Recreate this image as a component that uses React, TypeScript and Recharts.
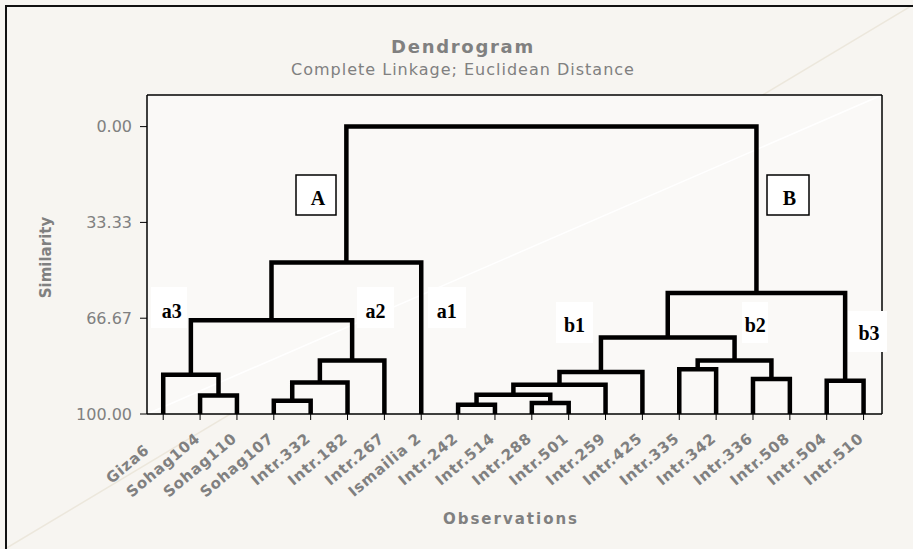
import React from 'react';
import { LineChart, Line, XAxis, YAxis, ReferenceLine } from 'recharts';

// Leaves in dendrogram order
const leafNames = [
  'Giza6', 'Sohag104', 'Sohag110', 'Sohag107', 'Intr.332', 'Intr.182', 'Intr.267', 'Ismailia 2',
  'Intr.242', 'Intr.514', 'Intr.288', 'Intr.501', 'Intr.259', 'Intr.425', 'Intr.335', 'Intr.342',
  'Intr.336', 'Intr.508', 'Intr.504', 'Intr.510',
];

// Merge steps: children (leaf name or earlier merge "m<i>") and similarity level
const mergeLeft = ['Sohag104', 'Giza6', 'Sohag107', 'm2', 'm3', 'm1', 'm5', 'Intr.242', 'Intr.288', 'm7', 'm9', 'm10', 'Intr.335', 'Intr.336', 'm12', 'm11', 'Intr.504', 'm15', 'm6'];
const mergeRight = ['Sohag110', 'm0', 'Intr.332', 'Intr.182', 'Intr.267', 'm4', 'Ismailia 2', 'Intr.514', 'Intr.501', 'm8', 'Intr.259', 'Intr.425', 'Intr.342', 'Intr.508', 'm13', 'm14', 'Intr.510', 'm16', 'm17'];
const mergeSimilarity = [93.6, 86.3, 95.4, 89.0, 81.4, 67.4, 47.3, 96.8, 96.2, 93.3, 89.8, 85.4, 84.4, 87.8, 81.4, 73.4, 88.4, 57.9, 0.0];

const yTicks = [0, 33.33, 66.67, 100];
const xTicks = leafNames.map((_, i) => i + 1);

// Build dendrogram links from the merge table
const nodeX: Record<string, number> = {};
const nodeH: Record<string, number> = {};
leafNames.forEach((n, i) => { nodeX[n] = i + 1; nodeH[n] = 100; });
const links = mergeLeft.map((l, i) => {
  const r = mergeRight[i];
  const s = mergeSimilarity[i];
  nodeX['m' + i] = (nodeX[l] + nodeX[r]) / 2;
  nodeH['m' + i] = s;
  return [
    { x: nodeX[l], y: nodeH[l] },
    { x: nodeX[l], y: s },
    { x: nodeX[r], y: s },
    { x: nodeX[r], y: nodeH[r] },
  ];
});

const GRAY = '#808080';
const SANS = '"DejaVu Sans", Verdana, sans-serif';
const SERIF = '"Liberation Serif", "Times New Roman", serif';

const XTick = (props: any) => {
  const { x, y, payload } = props;
  const name = leafNames[payload.value - 1] || '';
  const label = name.padEnd(8, ' ');
  const ax = x + 1;
  const ay = y + 18;
  return (
    <text
      x={ax}
      y={ay}
      transform={`rotate(-40, ${ax}, ${ay})`}
      textAnchor="end"
      fill={GRAY}
      fontFamily={SANS}
      fontWeight="bold"
      fontSize={15}
      letterSpacing={0.8}
      style={{ whiteSpace: 'pre' }}
    >
      {label}
    </text>
  );
};

const boxLabels = [
  { t: 'A', x: 296, y: 175, w: 40, h: 40, tx: 318, ty: 205, border: true },
  { t: 'B', x: 767, y: 175, w: 42, h: 40, tx: 789.5, ty: 205, border: true },
  { t: 'a3', x: 151, y: 287, w: 36, h: 41, tx: 171.7, ty: 317.5, border: false },
  { t: 'a2', x: 357, y: 287, w: 37, h: 41, tx: 375.5, ty: 317.5, border: false },
  { t: 'a1', x: 428, y: 287, w: 38, h: 41, tx: 446.7, ty: 317.5, border: false },
  { t: 'b1', x: 556, y: 302, w: 37, h: 41, tx: 574.5, ty: 331.7, border: false },
  { t: 'b2', x: 742, y: 302, w: 26, h: 41, tx: 755.3, ty: 331.7, border: false },
  { t: 'b3', x: 848, y: 311, w: 39, h: 41, tx: 869, ty: 340, border: false },
];

export default function App() {
  return (
    <div style={{ position: 'absolute', left: 0, top: 0, width: 913, height: 549, overflow: 'hidden', background: '#f7f5f1' }}>
      <svg width={913} height={549} style={{ position: 'absolute', left: 0, top: 0 }}>
        <line x1={5} y1={549} x2={913} y2={5} stroke="#ece7dc" strokeWidth={1.5} />
        <rect x={147} y={95} width={735} height={319} fill="#faf9f7" />
        <line x1={147} y1={414} x2={882} y2={95} stroke="#ffffff" strokeWidth={1.5} />
        <rect x={6} y={6} width={930} height={570} fill="none" stroke="#111" strokeWidth={2} />
      </svg>
      <div style={{ position: 'absolute', left: 0, top: 0 }}>
        <LineChart width={913} height={549} margin={{ top: 95, right: 31, left: 0, bottom: 0 }}>
          <XAxis
            type="number"
            dataKey="x"
            domain={[0.56, 20.5]}
            ticks={xTicks}
            interval={0}
            height={135}
            tickSize={6}
            tickLine={{ stroke: '#000', strokeWidth: 1 }}
            axisLine={{ stroke: '#000', strokeWidth: 1.5 }}
            tick={<XTick />}
            allowDataOverflow
          />
          <YAxis
            type="number"
            domain={[-11, 100]}
            reversed
            ticks={yTicks}
            interval={0}
            width={147}
            tickSize={7}
            tickMargin={8}
            tickFormatter={(v: number) => v.toFixed(2)}
            tickLine={{ stroke: '#000', strokeWidth: 1 }}
            axisLine={{ stroke: '#000', strokeWidth: 1.5 }}
            tick={{ fill: GRAY, fontSize: 16, fontFamily: SANS }}
            allowDataOverflow
          />
          <ReferenceLine y={-11} stroke="#000" strokeWidth={1.5} />
          <ReferenceLine x={20.5} stroke="#000" strokeWidth={1.5} />
          {links.map((pts, i) => (
            <Line
              key={i}
              data={pts}
              dataKey="y"
              type="linear"
              stroke="#000"
              strokeWidth={4.5}
              strokeLinejoin="miter"
              strokeLinecap="butt"
              dot={false}
              activeDot={false}
              isAnimationActive={false}
              legendType="none"
            />
          ))}
        </LineChart>
      </div>
      <svg width={913} height={549} style={{ position: 'absolute', left: 0, top: 0, pointerEvents: 'none' }}>
        <text x={463} y={53} textAnchor="middle" fontFamily={SANS} fontWeight="bold" fontSize={18} letterSpacing={1.7} fill={GRAY}>
          Dendrogram
        </text>
        <text x={463} y={75} textAnchor="middle" fontFamily={SANS} fontSize={16} letterSpacing={1} fill={GRAY}>
          Complete Linkage; Euclidean Distance
        </text>
        <text
          x={51}
          y={257.5}
          transform="rotate(-90, 51, 257.5)"
          textAnchor="middle"
          fontFamily={SANS}
          fontWeight="bold"
          fontSize={15}
          fill={GRAY}
        >
          Similarity
        </text>
        <text x={511} y={524} textAnchor="middle" fontFamily={SANS} fontWeight="bold" fontSize={15} letterSpacing={2} fill={GRAY}>
          Observations
        </text>
        {boxLabels.map((b) => (
          <g key={b.t}>
            <rect
              x={b.x}
              y={b.y}
              width={b.w}
              height={b.h}
              fill="#ffffff"
              stroke={b.border ? '#000' : 'none'}
              strokeWidth={1.5}
            />
            <text x={b.tx} y={b.ty} textAnchor="middle" fontFamily={SERIF} fontWeight="bold" fontSize={20} fill="#000">
              {b.t}
            </text>
          </g>
        ))}
      </svg>
    </div>
  );
}
